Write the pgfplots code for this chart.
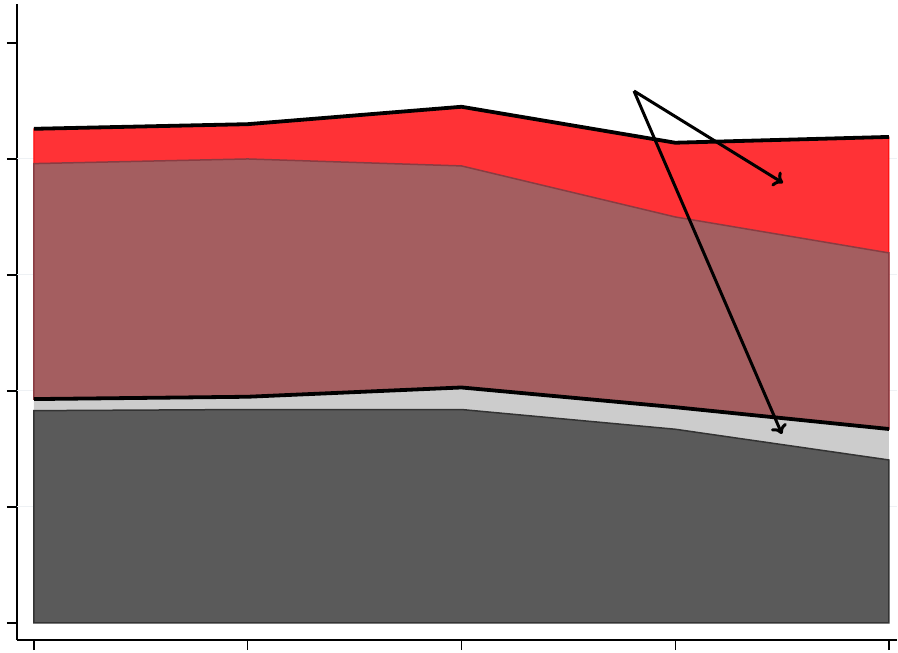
\documentclass[border=0pt]{standalone}
\usepackage{pgfplots}
\pgfplotsset{compat=1.18}
\usetikzlibrary{arrows.meta}
\definecolor{cred}{HTML}{FF3236}
\definecolor{cbrown}{HTML}{A45E60}
\definecolor{cbrownedge}{HTML}{8A3C42}
\definecolor{clgray}{HTML}{CCCCCC}
\definecolor{cdgray}{HTML}{5A5A5A}
\definecolor{cgrid}{HTML}{EEF1F4}
\begin{document}
\begin{tikzpicture}
\begin{axis}[
  scale only axis, width=880pt, height=636pt,
  xmin=-0.0795, xmax=4.0375, ymin=-0.147, ymax=5.336,
  axis x line*=bottom, axis y line*=left,
  axis line style={line width=1.3pt, black},
  xtick={0,1,2,3,4}, ytick={0,1,2,3,4,5},
  xticklabels={}, yticklabels={},
  tick align=outside, major tick length=10pt,
  tick style={line width=1.3pt, black},
  clip=false,
]
% grid lines
\addplot[cgrid, line width=1pt] coordinates {(-0.0795,1)(4.0375,1)};
\addplot[cgrid, line width=1pt] coordinates {(-0.0795,2)(4.0375,2)};
\addplot[cgrid, line width=1pt] coordinates {(-0.0795,3)(4.0375,3)};
\addplot[cgrid, line width=1pt] coordinates {(-0.0795,4)(4.0375,4)};
% light gray base
\addplot[fill=clgray, draw=none] coordinates {(0,0)(0,1.93)(1,1.95)(2,2.03)(3,1.86)(4,1.672)(4,0)} --cycle;
% dark gray
\addplot[fill=cdgray, draw=black!80, line width=1.5pt] coordinates {(0,0)(0,1.83)(1,1.84)(2,1.84)(3,1.67)(4,1.405)(4,0)} --cycle;
% red band
\addplot[fill=cred, draw=red, line width=1pt] coordinates {(0,1.93)(0,4.26)(1,4.30)(2,4.45)(3,4.14)(4,4.19)(4,1.672)(3,1.86)(2,2.03)(1,1.95)} --cycle;
% brown band
\addplot[fill=cbrown, draw=cbrownedge, line width=1.5pt] coordinates {(0,1.93)(0,3.96)(1,4.00)(2,3.94)(3,3.50)(4,3.19)(4,1.672)(3,1.86)(2,2.03)(1,1.95)} --cycle;
% black lines
\addplot[black, line width=3.8pt] coordinates {(0,4.26)(1,4.30)(2,4.45)(3,4.14)(4,4.19)};
\addplot[black, line width=3.8pt] coordinates {(0,1.93)(1,1.95)(2,2.03)(3,1.86)(4,1.672)};
% arrows
\addplot[black, line width=3pt, -{To[length=9pt,width=17pt]}] coordinates {(2.807,4.586)(3.504,3.793)};
\addplot[black, line width=3pt, -{To[length=9pt,width=17pt]}] coordinates {(2.807,4.586)(3.499,1.629)};
\coordinate (A) at (rel axis cs:0,0);
\coordinate (B) at (rel axis cs:1,1);
\end{axis}
\pgfresetboundingbox
\path ([shift={(-17pt,-12pt)}]A) rectangle ([shift={(1pt,4pt)}]B);
\end{tikzpicture}
\end{document}
